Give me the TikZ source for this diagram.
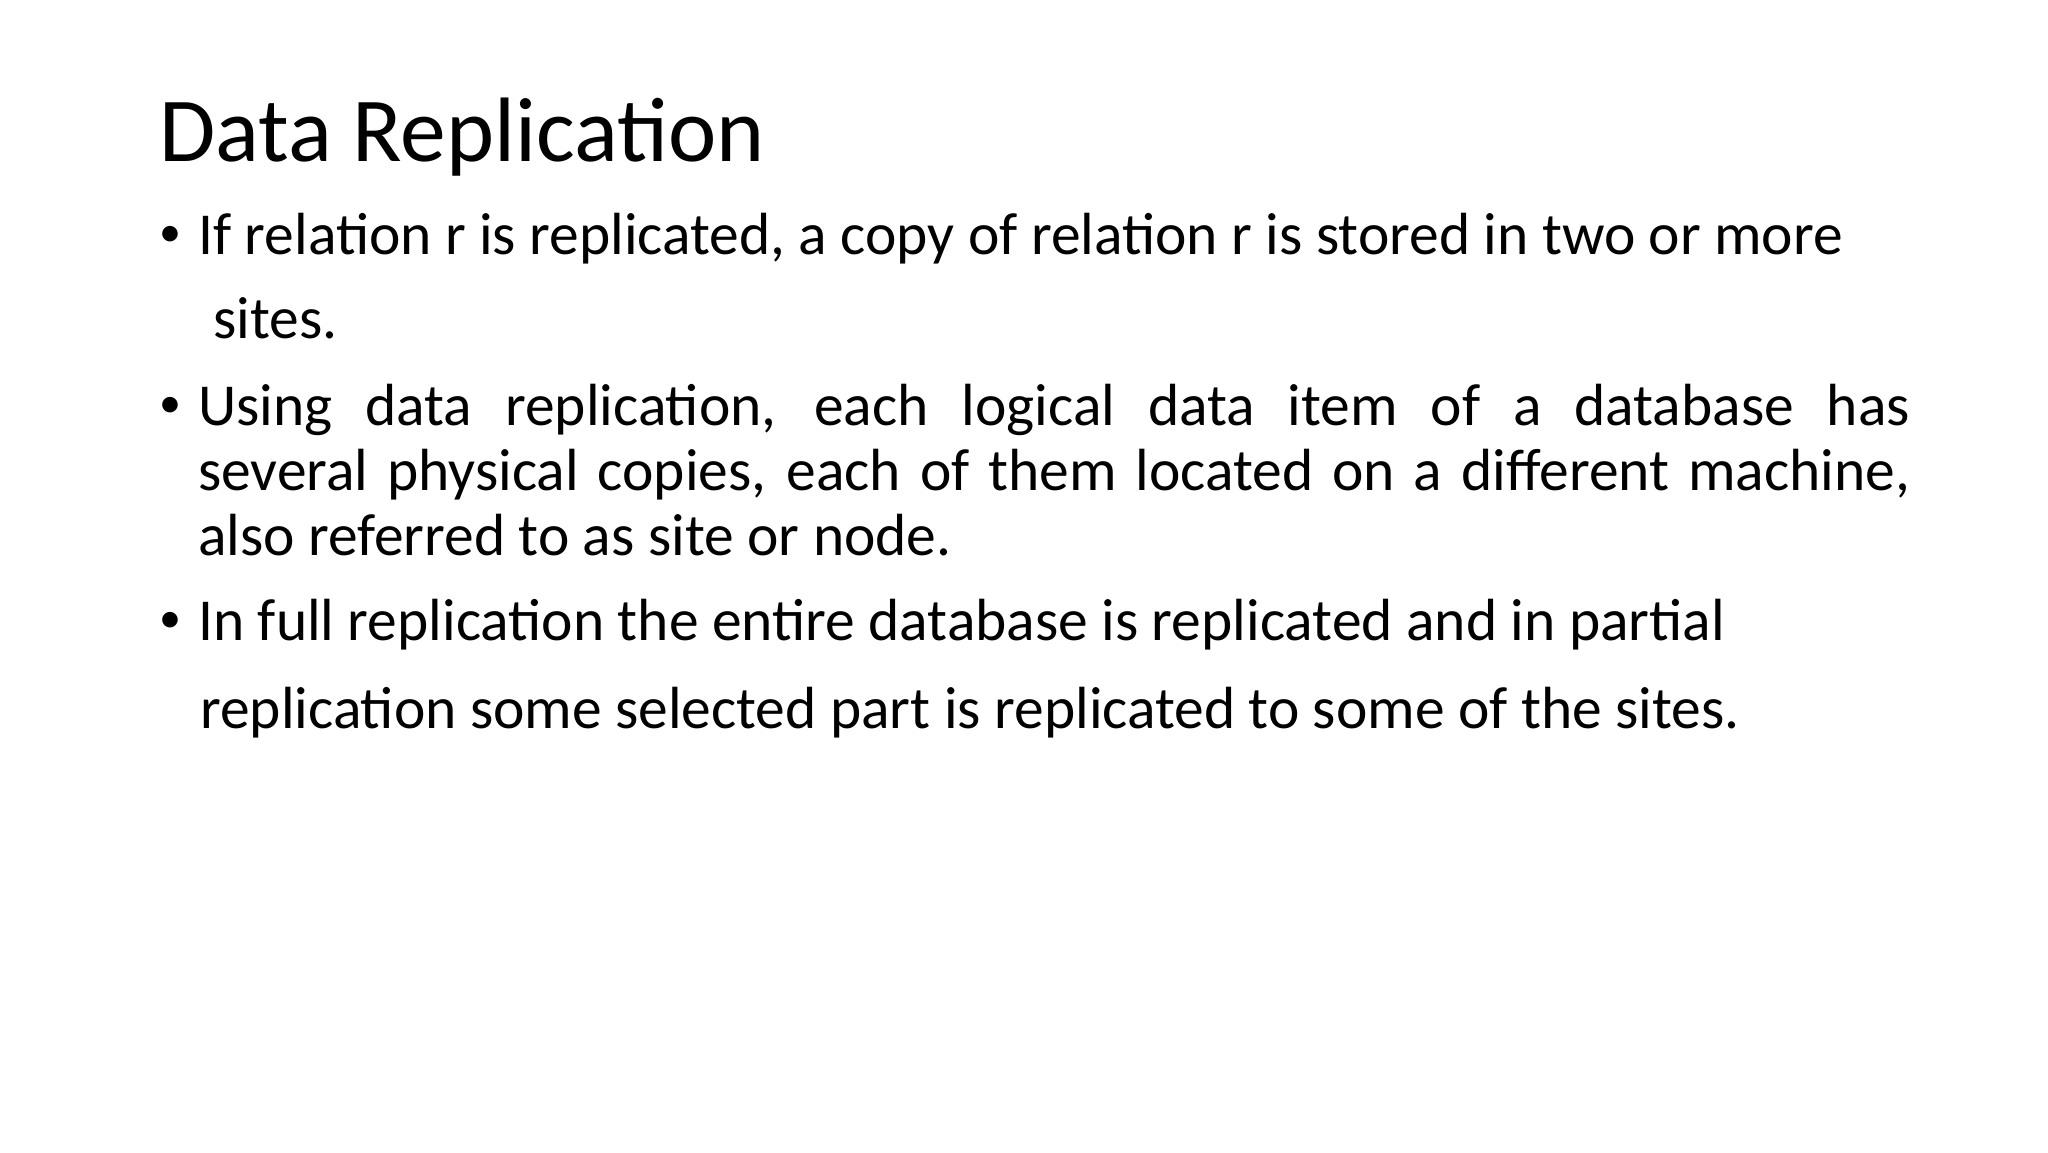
\documentclass[tikz,border=0pt]{standalone}
\usepackage{fontspec}
\setmainfont{Carlito}
\begin{document}
\begin{tikzpicture}[x=1pt,y=1pt,
  body/.style={anchor=base west,inner sep=0pt,font=\fontsize{59.5}{65}\selectfont},
  bul/.style={anchor=base west,inner sep=0pt,font=\fontsize{44}{44}\selectfont}]
\useasboundingbox (0,0) rectangle (2048,1152);
\fill[white] (0,0) rectangle (2048,1152);
\node[anchor=base west,inner sep=0pt,font=\fontsize{91.5}{100}\selectfont] (title) at (159,990) {Data Replication};
\node[bul] (b1) at (159,905) {\textbullet};
\node[body] (t1) at (198,897) {If relation r is replicated, a copy of relation r is stored in two or more};
\node[body] (t1b) at (213,813) {sites.};
\node[bul] (b2) at (159,734) {\textbullet};
\node[body] (t2) at (198,726) {\makebox[1712pt][s]{Using data replication, each logical data item of a database has}};
\node[body] (t2b) at (198,661) {\makebox[1712pt][s]{several physical copies, each of them located on a different machine,}};
\node[body] (t2c) at (198,596) {also referred to as site or node.};
\node[bul] (b3) at (159,519) {\textbullet};
\node[body] (t3) at (198,511) {In full replication the entire database is replicated and in partial};
\node[body] (t3b) at (200,423) {replication some selected part is replicated to some of the sites.};
\end{tikzpicture}
\end{document}
